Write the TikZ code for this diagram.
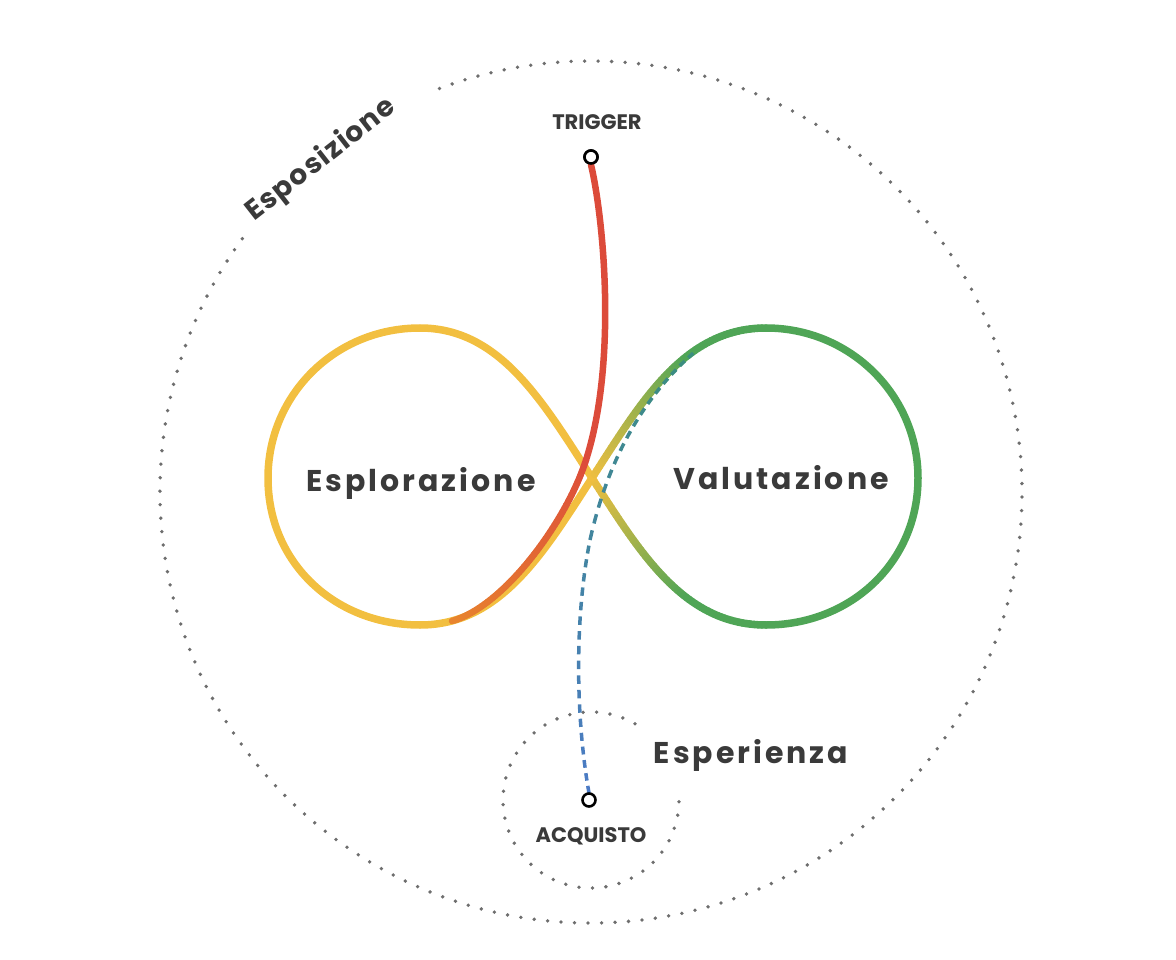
\documentclass[tikz,border=0pt]{standalone}
\usepackage{fontspec}
\setmainfont{Poppins}
\newfontfamily\biglbl{Poppins}[LetterSpace=10]
\newfontfamily\midlbl{Poppins}[LetterSpace=5]
\definecolor{yel}{HTML}{F2BF40}
\definecolor{grn}{HTML}{4FA556}
\definecolor{redc}{HTML}{DC4B3A}
\definecolor{orng}{HTML}{E8842E}
\definecolor{blu}{HTML}{4C7BC6}
\definecolor{tealc}{HTML}{3A8E7C}
\definecolor{txt}{HTML}{3A3A3A}
\definecolor{dotc}{HTML}{6E6E6E}
% gradient-coloured cubic: P0 P1 P2 P3 colA colB tfull
\newcommand\gradcurve[7]{%
  \foreach \i in {1,...,60}{%
    \pgfmathsetmacro\ta{(\i-1)/60}%
    \pgfmathsetmacro\tb{\i/60}%
    \pgfmathsetmacro\mix{max(0,min(100,100-100*((\i-0.5)/60)/#7))}%
    \colorlet{segc}{#5!\mix!#6}%
    \pgfsetstrokecolor{segc}%
    \pgfpathcurvebetweentime{\ta}{\tb}{\pgfpointanchor{#1}{center}}{\pgfpointanchor{#2}{center}}{\pgfpointanchor{#3}{center}}{\pgfpointanchor{#4}{center}}%
    \pgfusepath{stroke}}}
% dashed gradient cubic: P0 P1 P2 P3 N f0 f1
\newcommand\dashcurve[7]{%
  \foreach \i in {1,...,#5}{%
    \pgfmathsetmacro\ta{(\i-1)/#5}%
    \pgfmathsetmacro\tb{(\i-1+0.58)/#5}%
    \pgfmathsetmacro\mix{max(0,min(100,100-100*(#6+(#7-#6)*(\i-0.7)/#5)))}%
    \colorlet{segc}{blu!\mix!tealc}%
    \pgfsetstrokecolor{segc}%
    \pgfpathcurvebetweentime{\ta}{\tb}{\pgfpointanchor{#1}{center}}{\pgfpointanchor{#2}{center}}{\pgfpointanchor{#3}{center}}{\pgfpointanchor{#4}{center}}%
    \pgfusepath{stroke}}}
\begin{document}
\begin{tikzpicture}[x=1pt,y=1pt,
  dotline/.style={draw=dotc, line width=3.8pt, line cap=round, dash pattern=on 0pt off 13.5pt},
  marker/.style={circle, draw=black, fill=white, line width=2.6pt, minimum size=13pt, inner sep=0pt},
  biglabel/.style={text=txt, font=\biglbl\bfseries\fontsize{30}{30}\selectfont, anchor=base, inner sep=0pt},
  smalllabel/.style={text=txt, font=\bfseries\fontsize{21}{21}\selectfont, anchor=base, inner sep=0pt},
  lobe/.style={line width=7.5pt, line cap=round}]
\useasboundingbox (0,0) rectangle (1176,-960);
% outer dotted circles
\draw[dotline] (591,-492) ++(144:431) arc[start angle=144, end angle=472, radius=431];
\draw[dotline] (591,-800) ++(60:88) arc[start angle=60, end angle=363, radius=88];
\node[text=txt, font=\midlbl\bfseries\fontsize{28}{28}\selectfont, rotate=38, anchor=base, inner sep=0pt] (espo) at (326,-166) {Esposizione};
% infinity coordinates
\coordinate (C) at (592,-478);
\coordinate (T1) at (420,-328);
\coordinate (L1) at (268,-478);
\coordinate (B1) at (420,-625);
\coordinate (T2) at (766,-328);
\coordinate (R2) at (918,-478);
\coordinate (B2) at (766,-625);
\coordinate (u1) at (641,-402);
\coordinate (u2) at (684,-328);
\coordinate (d1) at (641,-554);
\coordinate (d2) at (684,-625);
% left lobe
\draw[yel, lobe] (C) .. controls (543,-402) and (500,-328) .. (T1)
  .. controls (335,-328) and (268,-395) .. (L1)
  .. controls (268,-563) and (335,-625) .. (B1)
  .. controls (500,-625) and (543,-554) .. (C);
% right lobe
\draw[grn, lobe] (T2) .. controls (850,-328) and (918,-395) .. (R2)
  .. controls (918,-563) and (850,-625) .. (B2);
\begin{scope}[lobe]
  \gradcurve{C}{d1}{d2}{B2}{yel}{grn}{0.62}
  \gradcurve{C}{u1}{u2}{T2}{yel}{grn}{0.62}
\end{scope}
% trigger line
\node[marker] (trig) at (591,-157) {};
\coordinate (r1) at (603,-215);
\coordinate (r2) at (618,-360);
\coordinate (rm) at (586,-460);
\coordinate (r3) at (567,-520);
\coordinate (r4) at (505,-606);
\coordinate (rend) at (452,-621);
\draw[redc, line width=6.5pt, line cap=round] (trig.south) .. controls (r1) and (r2) .. (rm);
\begin{scope}[line width=6.5pt, line cap=round]
  \gradcurve{rm}{r3}{r4}{rend}{redc}{orng}{1}
\end{scope}
\node[marker] (trig2) at (591,-157) {};
% acquisto dashed line
\coordinate (a0) at (589,-793);
\coordinate (a1) at (576,-720);
\coordinate (a2) at (574,-620);
\coordinate (am) at (590,-540);
\coordinate (b1) at (610,-450);
\coordinate (b2) at (650,-390);
\coordinate (b3) at (697,-350);
\begin{scope}[line width=3.5pt]
  \dashcurve{a0}{a1}{a2}{am}{18}{0}{0.53}
  \dashcurve{am}{b1}{b2}{b3}{16}{0.53}{1}
\end{scope}
\node[marker] (acq) at (589,-800) {};
% labels
\node[biglabel] (expl) at (421,-491) {Esplorazione};
\node[biglabel] (valu) at (781,-489) {Valutazione};
\node[biglabel] (espe) at (751,-763) {Esperienza};
\node[smalllabel] (trigl) at (597,-130) {TRIGGER};
\node[smalllabel] (acql) at (591,-842) {ACQUISTO};
\end{tikzpicture}
\end{document}
